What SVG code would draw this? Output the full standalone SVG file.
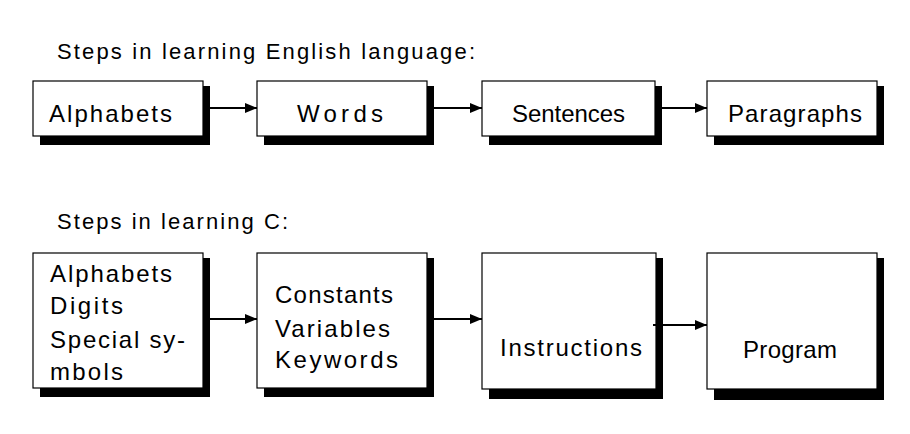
<svg xmlns="http://www.w3.org/2000/svg" width="910" height="434" viewBox="0 0 910 434">
<style>
  .box { fill: #ffffff; stroke: #000000; stroke-width: 1.2; }
  .shadow { fill: #000000; stroke: none; }
  .t { font-family: "Liberation Sans", Arial, sans-serif; font-size: 24px; fill: #000000; }
  .title { font-family: "Liberation Sans", Arial, sans-serif; font-size: 22px; fill: #000000; }
  .conn { stroke: #000000; stroke-width: 2; fill: none; }
</style>
<defs>
  <marker id="arrow" markerWidth="12" markerHeight="10" refX="12" refY="5" orient="auto" markerUnits="userSpaceOnUse">
    <path d="M0,0 L12,5 L0,10 Z" fill="#000000"/>
  </marker>
</defs>
<rect width="910" height="434" fill="#ffffff"/>

<text id="title-english" class="title" x="57" y="59" textLength="418" lengthAdjust="spacing">Steps in learning English language:</text>
<text id="title-c" class="title" x="57" y="229" textLength="231" lengthAdjust="spacing">Steps in learning C:</text>

<!-- Top row -->
<g id="node-alphabets">
  <rect class="shadow" x="40" y="86" width="170" height="59"/>
  <rect class="box" x="33" y="81" width="170" height="55"/>
  <text class="t" x="49" y="122" textLength="123" lengthAdjust="spacing">Alphabets</text>
</g>
<g id="node-words">
  <rect class="shadow" x="264" y="86" width="170" height="59"/>
  <rect class="box" x="257" y="81" width="170" height="55"/>
  <text class="t" x="297" y="122" textLength="86" lengthAdjust="spacing">Words</text>
</g>
<g id="node-sentences">
  <rect class="shadow" x="489" y="86" width="173" height="59"/>
  <rect class="box" x="482" y="81" width="173" height="55"/>
  <text class="t" x="512" y="122" textLength="113" lengthAdjust="spacing">Sentences</text>
</g>
<g id="node-paragraphs">
  <rect class="shadow" x="714" y="86" width="170" height="59"/>
  <rect class="box" x="707" y="81" width="170" height="55"/>
  <text class="t" x="728" y="122" textLength="134" lengthAdjust="spacing">Paragraphs</text>
</g>

<!-- Bottom row -->
<g id="node-c-alphabets">
  <rect class="shadow" x="40" y="258" width="170" height="139"/>
  <rect class="box" x="33" y="253" width="170" height="135"/>
  <text class="t" x="50" y="282" textLength="122" lengthAdjust="spacing">Alphabets</text>
  <text class="t" x="50" y="314" textLength="73" lengthAdjust="spacing">Digits</text>
  <text class="t" x="50" y="348" textLength="135" lengthAdjust="spacing">Special sy-</text>
  <text class="t" x="50" y="380" textLength="73" lengthAdjust="spacing">mbols</text>
</g>
<g id="node-c-constants">
  <rect class="shadow" x="264" y="258" width="170" height="139"/>
  <rect class="box" x="257" y="253" width="170" height="135"/>
  <text class="t" x="275" y="303" textLength="118" lengthAdjust="spacing">Constants</text>
  <text class="t" x="275" y="337" textLength="115" lengthAdjust="spacing">Variables</text>
  <text class="t" x="275" y="368" textLength="123" lengthAdjust="spacing">Keywords</text>
</g>
<g id="node-c-instructions">
  <rect class="shadow" x="489" y="258" width="174" height="141"/>
  <rect class="box" x="482" y="253" width="174" height="136"/>
  <text class="t" x="500" y="356" textLength="142" lengthAdjust="spacing">Instructions</text>
</g>
<g id="node-c-program">
  <rect class="shadow" x="714" y="258" width="170" height="142"/>
  <rect class="box" x="707" y="253" width="170" height="136"/>
  <text class="t" x="743" y="358" textLength="94" lengthAdjust="spacing">Program</text>
</g>

<g id="connectors">
  <line class="conn" x1="209" y1="108" x2="257" y2="108" marker-end="url(#arrow)"/>
  <line class="conn" x1="433" y1="108" x2="482" y2="108" marker-end="url(#arrow)"/>
  <line class="conn" x1="661" y1="108" x2="707" y2="108" marker-end="url(#arrow)"/>
  <line class="conn" x1="209" y1="319" x2="257" y2="319" marker-end="url(#arrow)"/>
  <line class="conn" x1="427" y1="319" x2="482" y2="319" marker-end="url(#arrow)"/>
  <line class="conn" x1="653" y1="325" x2="707" y2="325" marker-end="url(#arrow)"/>
</g>
</svg>
